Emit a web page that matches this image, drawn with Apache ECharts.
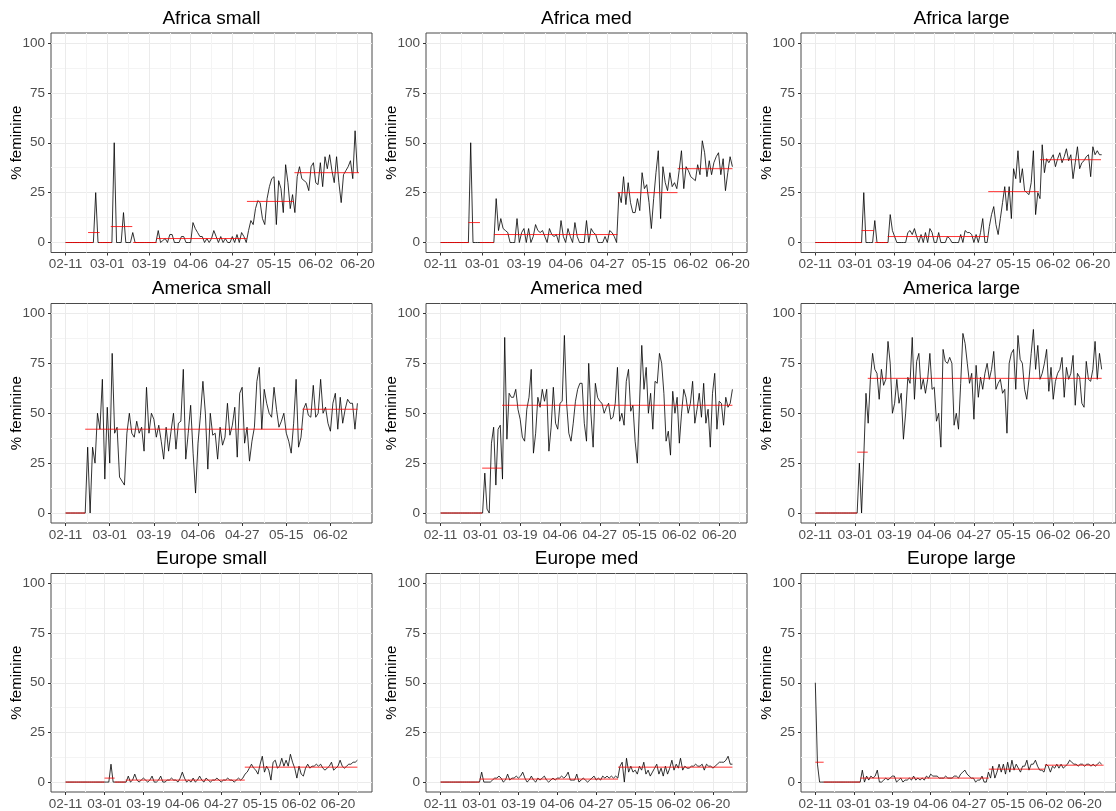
<!DOCTYPE html>
<html>
<head>
<meta charset="utf-8">
<script src="https://cdn.jsdelivr.net/npm/echarts@6/dist/echarts.min.js"></script>
<style>
  body { margin: 0; background: #fff; }
  #chart { width: 1116px; height: 811px; }
</style>
</head>
<body>
<div id="chart"></div>
<script>
// tick labels, one every 18 observations
const xLabels = ['02-11', '03-01', '03-19', '04-06', '04-27', '05-15', '06-02', '06-20']
const yTicks = [0, 25, 50, 75, 100]
const yMinor = [12.5, 37.5, 62.5, 87.5]

// daily % feminine, one value per observation
const africaSmall = [
  0, 0, 0, 0, 0, 0, 0, 0, 0, 0,
  0, 0, 0, 25, 0, 0, 0, 0, 0, 0,
  0, 50, 0, 0, 0, 15, 0, 0, 0, 5,
  0, 0, 0, 0, 0, 0, 0, 0, 0, 0,
  6, 0, 1, 2, 0, 4, 4, 0, 0, 0,
  3, 3, 0, 0, 0, 10, 7, 5, 3, 3,
  0, 2, 0, 2, 6, 3, 0, 3, 0, 2,
  0, 0, 3, 0, 4, 0, 5, 3, 0, 6,
  11, 9, 17, 21, 20, 12, 9, 22, 28, 32,
  33, 9, 31, 27, 15, 39, 30, 17, 24, 15,
  33, 38, 32, 31, 30, 26, 38, 40, 30, 29,
  40, 28, 43, 37, 44, 36, 30, 43, 30, 20,
  34, 36, 38, 41, 32, 56, 35]
const africaMed = [
  0, 0, 0, 0, 0, 0, 0, 0, 0, 0,
  0, 0, 0, 50, 0, 0, 0, 0, 0, 0,
  0, 0, 0, 0, 22, 6, 12, 7, 6, 5,
  0, 0, 0, 12, 0, 5, 7, 0, 7, 0,
  3, 9, 6, 5, 6, 3, 0, 7, 4, 3,
  4, 0, 11, 3, 0, 7, 3, 0, 10, 3,
  0, 0, 0, 11, 0, 7, 5, 4, 0, 0,
  0, 3, 0, 6, 5, 3, 0, 25, 20, 33,
  19, 30, 20, 15, 15, 22, 16, 35, 27, 29,
  20, 7, 22, 35, 46, 12, 38, 30, 26, 35,
  28, 30, 27, 36, 46, 27, 38, 36, 33, 32,
  31, 39, 34, 51, 45, 33, 41, 34, 40, 43,
  45, 34, 42, 26, 35, 43, 38]
const africaLarge = [
  0, 0, 0, 0, 0, 0, 0, 0, 0, 0,
  0, 0, 0, 0, 0, 0, 0, 0, 0, 0,
  0, 0, 25, 0, 0, 0, 0, 11, 0, 0,
  0, 0, 0, 0, 14, 6, 3, 0, 0, 0,
  0, 0, 5, 6, 4, 7, 3, 0, 4, 0,
  5, 0, 7, 5, 0, 0, 5, 0, 0, 0,
  3, 2, 0, 0, 0, 0, 4, 0, 6, 5,
  5, 4, 0, 4, 0, 5, 12, 0, 0, 8,
  14, 18, 9, 4, 12, 20, 28, 16, 28, 12,
  37, 32, 46, 30, 37, 26, 25, 24, 30, 46,
  14, 25, 22, 49, 35, 42, 40, 42, 44, 38,
  42, 45, 40, 43, 47, 41, 44, 32, 40, 48,
  37, 40, 41, 43, 44, 33, 48, 44, 46, 44,
  44]
const americaSmall = [
  0, 0, 0, 0, 0, 0, 0, 0, 0, 33,
  0, 33, 25, 50, 42, 67, 17, 53, 25, 80,
  40, 43, 18, 16, 14, 40, 50, 40, 38, 46,
  40, 43, 31, 63, 40, 50, 47, 38, 44, 36,
  27, 43, 31, 41, 50, 32, 45, 46, 72, 27,
  40, 54, 30, 10, 35, 49, 66, 50, 22, 50,
  39, 40, 27, 43, 34, 38, 55, 39, 44, 53,
  28, 60, 63, 35, 43, 26, 36, 43, 66, 73,
  42, 62, 55, 50, 48, 63, 52, 43, 46, 50,
  40, 36, 30, 45, 67, 33, 38, 52, 55, 49,
  48, 64, 48, 50, 67, 50, 53, 45, 41, 55,
  60, 42, 58, 45, 52, 57, 55, 55, 42, 55]
const americaMed = [
  0, 0, 0, 0, 0, 0, 0, 0, 0, 0,
  0, 0, 0, 0, 0, 0, 0, 0, 0, 0,
  20, 2, 0, 35, 43, 14, 42, 44, 17, 88,
  37, 60, 58, 58, 62, 52, 47, 38, 36, 52,
  58, 72, 30, 40, 58, 53, 62, 56, 62, 31,
  43, 63, 45, 42, 55, 56, 89, 55, 40, 36,
  45, 56, 62, 65, 65, 45, 36, 75, 50, 33,
  65, 58, 56, 55, 50, 53, 55, 47, 48, 55,
  73, 46, 50, 44, 66, 72, 51, 54, 36, 25,
  55, 84, 62, 73, 50, 60, 42, 66, 65, 80,
  75, 60, 36, 41, 29, 61, 50, 58, 35, 50,
  62, 58, 50, 55, 66, 45, 52, 60, 48, 65,
  45, 52, 33, 60, 70, 42, 56, 55, 44, 58,
  53, 55, 62]
const americaLarge = [
  0, 0, 0, 0, 0, 0, 0, 0, 0, 0,
  0, 0, 0, 0, 0, 0, 0, 0, 0, 0,
  25, 0, 28, 60, 45, 67, 80, 72, 70, 57,
  72, 64, 67, 86, 75, 50, 55, 67, 55, 60,
  37, 50, 68, 65, 88, 57, 76, 80, 62, 67,
  60, 67, 80, 62, 63, 46, 50, 33, 82, 76,
  75, 78, 75, 44, 50, 42, 65, 90, 85, 75,
  65, 70, 47, 74, 58, 68, 62, 70, 75, 67,
  72, 81, 62, 65, 67, 60, 62, 40, 75, 80,
  82, 62, 89, 77, 75, 62, 57, 67, 80, 92,
  72, 84, 67, 70, 75, 82, 61, 73, 57, 66,
  70, 72, 78, 58, 73, 67, 70, 79, 54, 70,
  68, 55, 53, 76, 67, 66, 72, 86, 67, 80,
  72]
const europeSmall = [
  0, 0, 0, 0, 0, 0, 0, 0, 0, 0,
  0, 0, 0, 0, 0, 0, 0, 0, 0, 0,
  0, 9, 0, 0, 0, 0, 0, 0, 0, 3,
  0, 1, 4, 1, 0, 1, 2, 1, 0, 1,
  3, 0, 0, 1, 3, 0, 0, 1, 1, 2,
  1, 1, 0, 2, 5, 2, 0, 1, 0, 2,
  0, 1, 3, 1, 0, 2, 1, 0, 1, 1,
  2, 1, 0, 1, 1, 2, 1, 1, 0, 1,
  2, 1, 2, 4, 5, 7, 9, 7, 6, 4,
  9, 13, 5, 8, 6, 1, 10, 11, 7, 8,
  12, 8, 11, 8, 14, 10, 7, 2, 8, 4,
  3, 7, 9, 7, 8, 8, 9, 8, 9, 7,
  6, 7, 8, 10, 6, 7, 8, 11, 8, 7,
  8, 9, 9, 10, 10, 11]
const europeMed = [
  0, 0, 0, 0, 0, 0, 0, 0, 0, 0,
  0, 0, 0, 0, 0, 0, 0, 0, 0, 5,
  0, 0, 0, 0, 1, 2, 2, 3, 2, 0,
  1, 4, 1, 2, 2, 3, 2, 3, 5, 2,
  0, 1, 3, 1, 0, 2, 1, 2, 3, 1,
  0, 1, 2, 1, 2, 2, 3, 2, 3, 5,
  1, 1, 1, 4, 0, 1, 2, 1, 0, 1,
  2, 3, 1, 2, 1, 3, 2, 3, 2, 3,
  2, 3, 2, 8, 10, 0, 12, 5, 8, 5,
  6, 4, 8, 6, 10, 4, 6, 3, 5, 7,
  9, 4, 7, 3, 8, 4, 7, 11, 6, 9,
  7, 12, 6, 8, 7, 7, 8, 8, 9, 8,
  8, 9, 6, 9, 8, 8, 7, 8, 9, 10,
  10, 10, 11, 13, 9, 9]
const europeLarge = [
  50, 9, 0, 0, 0, 0, 0, 0, 0, 0,
  0, 0, 0, 0, 0, 0, 0, 0, 0, 0,
  0, 0, 6, 0, 3, 1, 3, 2, 3, 6,
  0, 0, 1, 2, 1, 2, 3, 3, 0, 1,
  2, 0, 1, 1, 2, 1, 3, 1, 2, 1,
  2, 1, 3, 2, 4, 3, 3, 3, 2, 2,
  2, 3, 2, 2, 2, 3, 3, 2, 4, 5,
  6, 4, 3, 2, 2, 0, 1, 1, 3, 0,
  0, 5, 2, 8, 2, 5, 9, 5, 9, 4,
  10, 5, 11, 6, 9, 7, 5, 8, 8, 11,
  6, 9, 9, 11, 8, 6, 6, 5, 9, 8,
  5, 8, 7, 9, 7, 9, 7, 8, 9, 11,
  10, 9, 9, 8, 9, 9, 8, 9, 9, 8,
  9, 8, 9, 10, 9]

// regime means as [from, to, level] in observation units
const africaSmallMeans = [[0, 11.8, 0], [9.7, 14.7, 5], [14.4, 19.8, 0], [19.5, 28.8, 8], [29.2, 39.3, 0], [39.3, 78.3, 2], [78.3, 98.6, 20.6], [98.8, 126.7, 35]]
const africaMedMeans = [[0, 12.2, 0], [12, 17, 10], [17, 23, 0], [23, 76.4, 4], [76.4, 102.3, 25], [102.3, 126, 37]]
const africaLargeMeans = [[0, 21, 0], [21, 26.6, 6], [27, 32.8, 0], [32.8, 78.5, 3], [78.5, 101.5, 25.5], [102, 129.7, 41.5]]
const americaSmallMeans = [[0, 8, 0], [8, 96.9, 42], [96.6, 119.1, 52]]
const americaMedMeans = [[0, 18.8, 0], [18.8, 27.8, 22.5], [27.8, 132, 54]]
const americaLargeMeans = [[0, 19, 0], [19, 23.8, 30.5], [23.8, 130, 67.5]]
const europeSmallMeans = [[0, 18, 0], [18, 22.7, 2], [22.7, 27.8, 0], [27.8, 82.9, 1], [82.9, 135, 7.5]]
const europeMedMeans = [[0, 18, 0], [18, 82.1, 1.5], [82.1, 135, 7.5]]
const europeLargeMeans = [[0, 3.9, 10], [3.9, 21, 0], [21, 81.2, 2], [81.2, 107.4, 6.5], [107.4, 134.9, 8.5]]

const panels = [
  { title: 'Africa small', values: africaSmall, means: africaSmallMeans },
  { title: 'Africa med', values: africaMed, means: africaMedMeans },
  { title: 'Africa large', values: africaLarge, means: africaLargeMeans },
  { title: 'America small', values: americaSmall, means: americaSmallMeans },
  { title: 'America med', values: americaMed, means: americaMedMeans },
  { title: 'America large', values: americaLarge, means: americaLargeMeans },
  { title: 'Europe small', values: europeSmall, means: europeSmallMeans },
  { title: 'Europe med', values: europeMed, means: europeMedMeans },
  { title: 'Europe large', values: europeLarge, means: europeLargeMeans }
]

const FONT = '"Liberation Sans", Arial, sans-serif'
const colLeft = [51, 426, 801]
const rowTop = [33, 303.5, 573.5]
const panelW = 321
const panelH = 219.5

const xMajor = xLabels.map((d, i) => i * 18)
const xMinor = xLabels.map((d, i) => i * 18 + 9)

const grid = [], xAxis = [], yAxis = [], series = [], graphic = []

panels.forEach((p, k) => {
  const left = colLeft[k % 3]
  const top = rowTop[Math.floor(k / 3)]
  const last = p.values.length - 1
  const xMin = -0.05 * last, xMax = 1.05 * last

  grid.push({
    left: left, top: top, width: panelW, height: panelH,
    show: true, borderColor: '#4a4a4a', borderWidth: 1, backgroundColor: '#fff'
  })

  // major x axis with labels
  xAxis.push({
    type: 'value', gridIndex: k, min: xMin, max: xMax, position: 'bottom',
    axisLine: { show: false, onZero: false },
    axisTick: { show: true, customValues: xMajor, length: 3, lineStyle: { color: '#333' } },
    axisLabel: {
      customValues: xMajor, margin: 5, color: '#4D4D4D', fontSize: 13.5, fontFamily: FONT,
      formatter: v => xLabels[Math.round(v / 18)]
    },
    splitLine: { show: true, lineStyle: { color: '#EBEBEB', width: 1 } }
  })
  // minor x gridlines only
  xAxis.push({
    type: 'value', gridIndex: k, min: xMin, max: xMax, position: 'top',
    axisLine: { show: false, onZero: false },
    axisTick: { show: false, customValues: xMinor },
    axisLabel: { show: false },
    splitLine: { show: true, lineStyle: { color: '#F4F4F4', width: 1 } }
  })

  yAxis.push({
    type: 'value', gridIndex: k, min: -5, max: 105, position: 'left',
    name: '% feminine', nameLocation: 'middle', nameGap: 27, nameMoveOverlap: false,
    nameTextStyle: { color: '#000', fontSize: 15, fontFamily: FONT },
    axisLine: { show: false, onZero: false },
    axisTick: { show: true, customValues: yTicks, length: 3, lineStyle: { color: '#333' } },
    axisLabel: { customValues: yTicks, margin: 6, color: '#4D4D4D', fontSize: 13.5, fontFamily: FONT },
    splitLine: { show: true, lineStyle: { color: '#EBEBEB', width: 1 } }
  })
  yAxis.push({
    type: 'value', gridIndex: k, min: -5, max: 105, position: 'right',
    axisLine: { show: false, onZero: false },
    axisTick: { show: false, customValues: yMinor },
    axisLabel: { show: false },
    splitLine: { show: true, lineStyle: { color: '#F4F4F4', width: 1 } }
  })

  series.push({
    type: 'line', xAxisIndex: 2 * k, yAxisIndex: 2 * k,
    data: p.values.map((v, i) => [i, v]),
    showSymbol: false, z: 2,
    lineStyle: { color: '#000', width: 0.8 }
  })
  p.means.forEach(m => {
    series.push({
      type: 'line', xAxisIndex: 2 * k, yAxisIndex: 2 * k,
      data: [[m[0], m[2]], [m[1], m[2]]],
      showSymbol: false, z: 3,
      lineStyle: { color: '#FF0000', width: 1, opacity: 0.8 }
    })
  })

  graphic.push({
    type: 'text', x: left + panelW / 2, y: top - 14.5,
    style: { text: p.title, fill: '#000', font: '19px ' + FONT, textAlign: 'center', textVerticalAlign: 'middle' }
  })
})

const chart = echarts.init(document.getElementById('chart'))
chart.setOption({
  animation: false,
  backgroundColor: '#fff',
  grid, xAxis, yAxis, series, graphic
})
</script>
</body>
</html>
